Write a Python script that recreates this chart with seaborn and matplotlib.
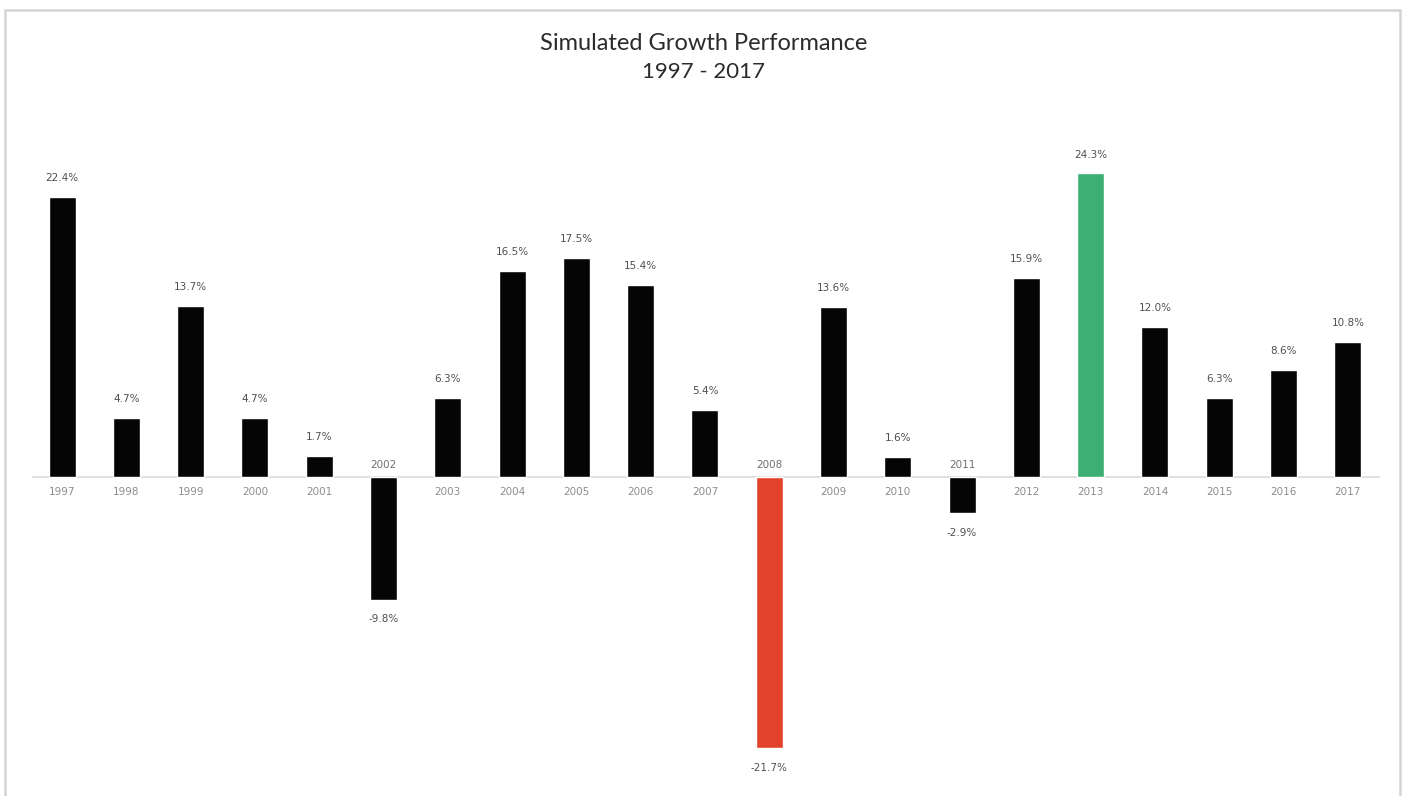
import pandas as pd
import numpy as np
import seaborn as sns
import matplotlib.pyplot as plt
from matplotlib.patches import Rectangle

# Data
years = ['1997', '1998', '1999', '2000', '2001', '2002', '2003', '2004', '2005', '2006', '2007',
         '2008', '2009', '2010', '2011', '2012', '2013', '2014', '2015', '2016', '2017']
growth = [22.4, 4.7, 13.7, 4.7, 1.7, -9.8, 6.3, 16.5, 17.5, 15.4, 5.4,
          -21.7, 13.6, 1.6, -2.9, 15.9, 24.3, 12.0, 6.3, 8.6, 10.8]
highlight = {'2008': '#e2432a', '2013': '#3daf72'}

df = pd.DataFrame({'Year': years, 'Growth': growth})
palette = {y: highlight.get(y, '#050505') for y in years}

sns.set_style('white')
plt.rcParams['font.family'] = ['Lato', 'DejaVu Sans']

fig = plt.figure(figsize=(14.07, 7.96), dpi=100)
ax = fig.add_axes([32 / 1407, 0, (1380 - 32) / 1407, (796 - 130) / 796])

sns.barplot(data=df, x='Year', y='Growth', hue='Year', palette=palette, order=years,
            width=0.42, legend=False, saturation=1, ax=ax)

ax.set_xlim(-0.467, 20.5)
ax.set_ylim(-25.52, 27.76)
ax.axhline(0, color='#d9d9d9', lw=1.2, zorder=0)
ax.set_xticks([])
ax.set_yticks([])
ax.set_xlabel('')
ax.set_ylabel('')
sns.despine(ax=ax, left=True, bottom=True)

# Year labels and value labels
small = dict(ha='center', va='center', fontsize=7.5, family='DejaVu Sans',
             textcoords='offset points')
for i, (yr, v) in enumerate(zip(years, growth)):
    if v >= 0:
        ax.annotate(yr, (i, 0), xytext=(0, -11), color='#8c8c8c', **small)
        ax.annotate(f'{v:.1f}%', (i, v), xytext=(0, 13.5), color='#505050', **small)
    else:
        ax.annotate(yr, (i, 0), xytext=(0, 9), color='#707070', **small)
        ax.annotate(f'{v:.1f}%', (i, v), xytext=(0, -14), color='#505050', **small)

# Titles
fig.text(0.5, 1 - 44 / 796, 'Simulated Growth Performance', ha='center', va='center',
         fontsize=17, color='#2b2b2b')
fig.text(0.5, 1 - 72 / 796, '1997 - 2017', ha='center', va='center',
         fontsize=16, color='#2b2b2b')

# Light frame around the chart
fig.patches.append(Rectangle((5 / 1407, -0.1), (1400 - 5) / 1407, 0.1 + (796 - 10) / 796,
                             transform=fig.transFigure, fill=False,
                             edgecolor='#d4d4d4', lw=1.8))

fig.savefig('out.png', dpi=100)
